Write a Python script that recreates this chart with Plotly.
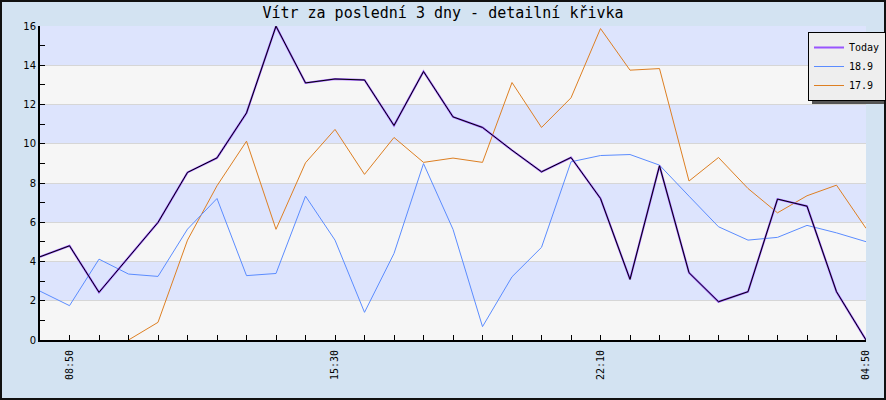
import plotly.graph_objects as go

# ---- data ----
x_index = list(range(29))
tick_labels = {1: "08:50", 10: "15:30", 19: "22:10", 28: "04:50"}

today = [4.24, 4.80, 2.43, 4.20, 5.99, 8.54, 9.28, 11.57, 15.99, 13.10,
         13.30, 13.25, 10.93, 13.68, 11.37, 10.83, 9.67, 8.57, 9.30, 7.21,
         3.09, 8.88, 3.43, 1.95, 2.46, 7.18, 6.82, 2.46, 0.0]
s189 = [2.49, 1.75, 4.12, 3.36, 3.24, 5.65, 7.21, 3.28, 3.39, 7.33,
        5.09, 1.41, 4.41, 8.99, 5.64, 0.68, 3.22, 4.72, 9.08, 9.40,
        9.45, 8.91, 7.33, 5.77, 5.09, 5.23, 5.84, 5.46, 5.01]
s179 = [None, None, None, 0.0, 0.90, 5.09, 7.86, 10.13, 5.64, 9.03,
        10.73, 8.44, 10.32, 9.05, 9.27, 9.05, 13.12, 10.83, 12.34, 15.87,
        13.75, 13.83, 8.10, 9.30, 7.72, 6.48, 7.35, 7.89, 5.69]

title_text = "Vítr za poslední 3 dny - detailní křivka"
y_major = [0, 2, 4, 6, 8, 10, 12, 14, 16]

W, H = 886, 400
ML, MR, MT, MB = 40, 20, 26, 60
PW, PH = W - ML - MR, H - MT - MB

fig = go.Figure()

fig.add_trace(go.Scatter(x=x_index, y=s179, mode="lines", name="17.9",
                         line=dict(color="#dd7f22", width=1), connectgaps=False))
fig.add_trace(go.Scatter(x=x_index, y=s189, mode="lines", name="18.9",
                         line=dict(color="#5b8cff", width=1)))
fig.add_trace(go.Scatter(x=x_index, y=today, mode="lines", name="Today",
                         line=dict(color="#9955ff", width=2)))
fig.add_trace(go.Scatter(x=x_index, y=today, mode="lines", name="Today",
                         line=dict(color="#000000", width=1), showlegend=False,
                         hoverinfo="skip"))

shapes = []
# alternating bands
for i in range(len(y_major) - 1):
    shapes.append(dict(type="rect", xref="paper", yref="y", x0=0, x1=1,
                       y0=y_major[i], y1=y_major[i + 1], layer="below",
                       line=dict(width=0),
                       fillcolor="#f6f6f6" if i % 2 == 0 else "#dde4fd"))
# outer image border
shapes.append(dict(type="rect", xref="paper", yref="paper",
                   x0=-ML / PW + 1 / PW, x1=1 + MR / PW - 1 / PW,
                   y0=-MB / PH + 1 / PH, y1=1 + MT / PH - 1 / PH,
                   line=dict(color="#111111", width=2), layer="above"))
# legend shadow
lx0, lx1, ly0, ly1 = 812, 884, 36, 104
shapes.append(dict(type="rect", xref="paper", yref="paper",
                   x0=(lx0 - ML) / PW, x1=(lx1 - ML) / PW,
                   y0=(H - MB - ly1) / PH, y1=(H - MB - ly0) / PH,
                   fillcolor="#555555", line=dict(width=0), layer="above"))

tickvals = x_index
ticktext = [tick_labels.get(i, "") for i in x_index]

fig.update_layout(
    width=W, height=H,
    margin=dict(l=ML, r=MR, t=MT, b=MB, pad=0, autoexpand=False),
    paper_bgcolor="#d3e3f2",
    plot_bgcolor="#f6f6f6",
    title=dict(text=title_text, x=0.5, xref="container", y=1 - 13 / H,
               yref="container", xanchor="center", yanchor="middle",
               font=dict(family="DejaVu Sans Mono", size=15, color="#000000")),
    shapes=shapes,
    showlegend=True,
    legend=dict(x=(808 - ML) / PW, y=(H - MB - 32) / PH, xanchor="left", yanchor="top",
                bgcolor="#eeeeee", bordercolor="#000000", borderwidth=1,
                font=dict(family="DejaVu Sans Mono", size=10, color="#000000"),
                traceorder="reversed", itemwidth=30, tracegroupgap=0),
    xaxis=dict(range=[0, 28], tickmode="array", tickvals=tickvals, ticktext=ticktext,
               tickangle=-90, ticks="inside", ticklen=5, tickcolor="#000000",
               ticklabelstandoff=4,
               showgrid=False, zeroline=False, showline=True, linecolor="#000000",
               linewidth=2, tickfont=dict(family="DejaVu Sans Mono", size=10, color="#000000"),
               fixedrange=True),
    yaxis=dict(range=[0, 16], tickmode="array", tickvals=y_major,
               ticks="inside", ticklen=5, tickcolor="#000000",
               showgrid=True, gridcolor="#d6d6d6", gridwidth=1,
               zeroline=False, showline=True, linecolor="#000000", linewidth=2,
               tickfont=dict(family="DejaVu Sans", size=10, color="#000000"),
               minor=dict(tickvals=[1, 3, 5, 7, 9, 11, 13, 15], ticks="inside",
                          ticklen=5, tickcolor="#000000", showgrid=False),
               fixedrange=True),
)

fig.write_html("out.html")
